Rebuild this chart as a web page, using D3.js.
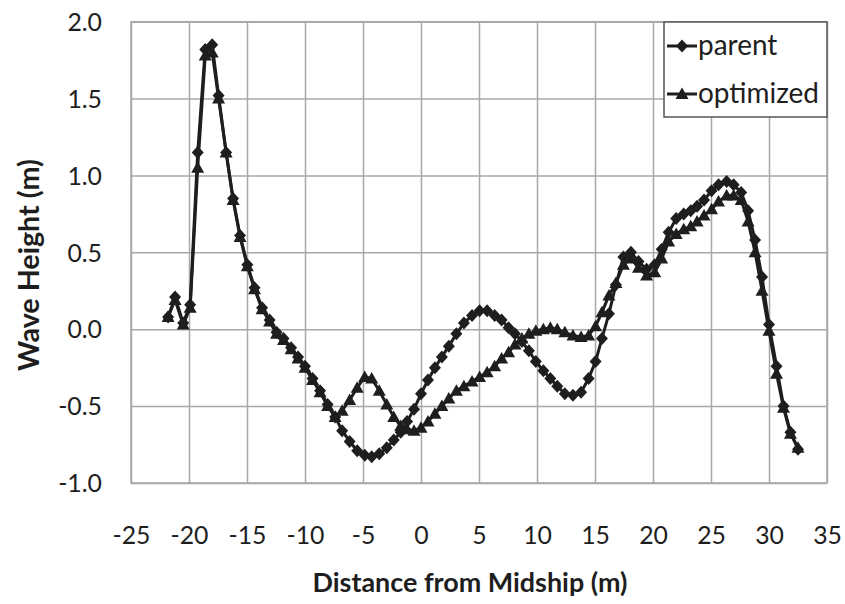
<!DOCTYPE html>
<html><head><meta charset="utf-8">
<script src="https://cdn.jsdelivr.net/npm/d3@7"></script>
<style>body{margin:0;background:#fff;} svg{display:block;}</style>
</head><body>
<svg id="chart" width="845" height="604"></svg>
<script>
// ---- data ----
const distance = [-21.8,-21.2,-20.5,-19.9,-19.25,-18.6,-18.0,-17.45,-16.8,-16.2,-15.6,-14.97,-14.35,-13.7,-13.05,-12.45,-11.85,-11.2,-10.6,-10.0,-9.35,-8.7,-8.05,-7.4,-6.8,-6.15,-5.5,-4.85,-4.25,-3.6,-2.95,-2.35,-1.75,-1.2,-0.6,0.0,0.6,1.2,1.8,2.4,3.05,3.7,4.4,5.05,5.7,6.35,6.95,7.55,8.1,8.7,9.3,9.9,10.55,11.15,11.75,12.4,13.1,13.8,14.45,15.05,15.6,16.2,16.8,17.45,18.1,18.75,19.45,20.15,20.75,21.35,22.0,22.65,23.25,23.8,24.4,25.05,25.65,26.35,26.95,27.6,28.2,28.8,29.4,30.0,30.65,31.25,31.85,32.5];
const parentHeight = [0.08,0.21,0.04,0.16,1.15,1.82,1.85,1.52,1.15,0.85,0.61,0.42,0.27,0.14,0.06,-0.02,-0.06,-0.12,-0.18,-0.24,-0.32,-0.40,-0.49,-0.57,-0.66,-0.73,-0.79,-0.82,-0.83,-0.81,-0.77,-0.72,-0.67,-0.60,-0.52,-0.42,-0.33,-0.25,-0.18,-0.11,-0.03,0.04,0.09,0.12,0.12,0.09,0.06,0.01,-0.03,-0.08,-0.14,-0.21,-0.27,-0.32,-0.37,-0.42,-0.43,-0.41,-0.32,-0.21,-0.06,0.10,0.29,0.47,0.50,0.44,0.39,0.42,0.52,0.63,0.72,0.75,0.77,0.80,0.84,0.90,0.94,0.96,0.94,0.89,0.77,0.58,0.34,0.03,-0.24,-0.50,-0.67,-0.78];
const optimizedHeight = [0.08,0.19,0.03,0.14,1.05,1.78,1.80,1.50,1.15,0.84,0.60,0.41,0.26,0.13,0.05,-0.03,-0.07,-0.13,-0.19,-0.25,-0.33,-0.41,-0.50,-0.57,-0.53,-0.46,-0.38,-0.31,-0.32,-0.40,-0.49,-0.57,-0.63,-0.65,-0.66,-0.64,-0.60,-0.55,-0.50,-0.45,-0.40,-0.37,-0.34,-0.31,-0.28,-0.24,-0.19,-0.15,-0.10,-0.06,-0.03,-0.01,0.00,0.01,0.00,-0.02,-0.04,-0.05,-0.04,0.02,0.11,0.22,0.30,0.42,0.46,0.40,0.35,0.37,0.46,0.57,0.62,0.65,0.67,0.70,0.74,0.78,0.83,0.87,0.87,0.84,0.70,0.50,0.25,-0.01,-0.29,-0.51,-0.68,-0.77];
const seriesNames = ["parent", "optimized"];
const xTickValues = [-25,-20,-15,-10,-5,0,5,10,15,20,25,30,35];
const yTickValues = [-1.0,-0.5,0.0,0.5,1.0,1.5,2.0];
const xTitle = "Distance from Midship (m)";
const yTitle = "Wave Height (m)";

// ---- layout ----
const FONT = "Lato, 'Open Sans', sans-serif";
const INK = "#1e1e1e";
const GRID = "#a8a8a8";
const L = 131, R = 827, T = 21.7, B = 483;

const svg = d3.select("#chart");
svg.append("rect").attr("width", 845).attr("height", 604).attr("fill", "#fff");

function fitSize(text, weight, target) {
  const t = svg.append("text").attr("font-family", FONT).attr("font-weight", weight)
    .attr("font-size", 100).text(text);
  const w = t.node().getComputedTextLength();
  t.remove();
  return 100 * target / w;
}
const tickSize = fitSize("-25", "normal", 38);
const xTitleSize = fitSize(xTitle, "bold", 315);
const yTitleSize = fitSize(yTitle, "bold", 212);
const legendSize = fitSize("optimized", "normal", 121);

const x = d3.scaleLinear().domain([-25, 35]).range([L, R]);
const y = d3.scaleLinear().domain([-1, 2]).range([B, T]);

// x axis with vertical grid
const gx = svg.append("g").attr("transform", `translate(0,${B})`)
  .call(d3.axisBottom(x).tickValues(xTickValues).tickSize(-(B - T)).tickFormat(d => String(d)));
gx.select(".domain").remove();
gx.selectAll(".tick line").attr("stroke", GRID).attr("stroke-width", 1.5);
gx.selectAll(".tick text").attr("y", 52).attr("dy", "0.35em")
  .attr("font-family", FONT).attr("font-size", tickSize).attr("fill", INK);

// y axis with horizontal grid
const gy = svg.append("g").attr("transform", `translate(${L},0)`)
  .call(d3.axisLeft(y).tickValues(yTickValues).tickSize(-(R - L)).tickFormat(d => d.toFixed(1)));
gy.select(".domain").remove();
gy.selectAll(".tick line").attr("stroke", GRID).attr("stroke-width", 1.5);
gy.selectAll(".tick text").attr("x", -29).attr("dy", "0.35em")
  .attr("font-family", FONT).attr("font-size", tickSize).attr("fill", INK);

// plot border
svg.append("rect").attr("x", L).attr("y", T).attr("width", R - L).attr("height", B - T)
  .attr("fill", "none").attr("stroke", GRID).attr("stroke-width", 1.5);

// axis titles
svg.append("text").attr("x", 470).attr("y", 592).attr("text-anchor", "middle")
  .attr("font-family", FONT).attr("font-weight", "bold").attr("font-size", xTitleSize)
  .attr("fill", INK).text(xTitle);
svg.append("text").attr("transform", "translate(39,265) rotate(-90)").attr("text-anchor", "middle")
  .attr("font-family", FONT).attr("font-weight", "bold").attr("font-size", yTitleSize)
  .attr("fill", INK).text(yTitle);

// markers
const diamond = "M0,-6.5L6,0L0,6.5L-6,0Z";
const triangle = "M0,-6.5L6.5,5L-6.5,5Z";
const series = [
  { name: seriesNames[0], values: parentHeight, marker: diamond },
  { name: seriesNames[1], values: optimizedHeight, marker: triangle }
];
const line = d3.line().x(d => x(d[0])).y(d => y(d[1]));

series.forEach(s => {
  const pts = distance.map((d, i) => [d, s.values[i]]);
  const g = svg.append("g");
  g.append("path").attr("d", line(pts)).attr("fill", "none")
    .attr("stroke", INK).attr("stroke-width", 3).attr("stroke-linejoin", "round");
  g.selectAll("path.m").data(pts).join("path").attr("class", "m")
    .attr("d", s.marker).attr("transform", d => `translate(${x(d[0])},${y(d[1])})`)
    .attr("fill", INK);
});

// legend
const lg = svg.append("g");
lg.append("rect").attr("x", 664).attr("y", 22).attr("width", 163).attr("height", 95)
  .attr("fill", "#fff").attr("stroke", "#555").attr("stroke-width", 1.5);
const legendY = [46, 94];
series.forEach((s, i) => {
  lg.append("line").attr("x1", 667).attr("x2", 697).attr("y1", legendY[i]).attr("y2", legendY[i])
    .attr("stroke", INK).attr("stroke-width", 3);
  lg.append("path").attr("d", s.marker).attr("transform", `translate(682,${legendY[i]})`).attr("fill", INK);
  lg.append("text").attr("x", 698).attr("y", legendY[i] + 9).attr("font-family", FONT)
    .attr("font-size", legendSize).attr("fill", INK).text(s.name);
});
</script>
</body></html>
